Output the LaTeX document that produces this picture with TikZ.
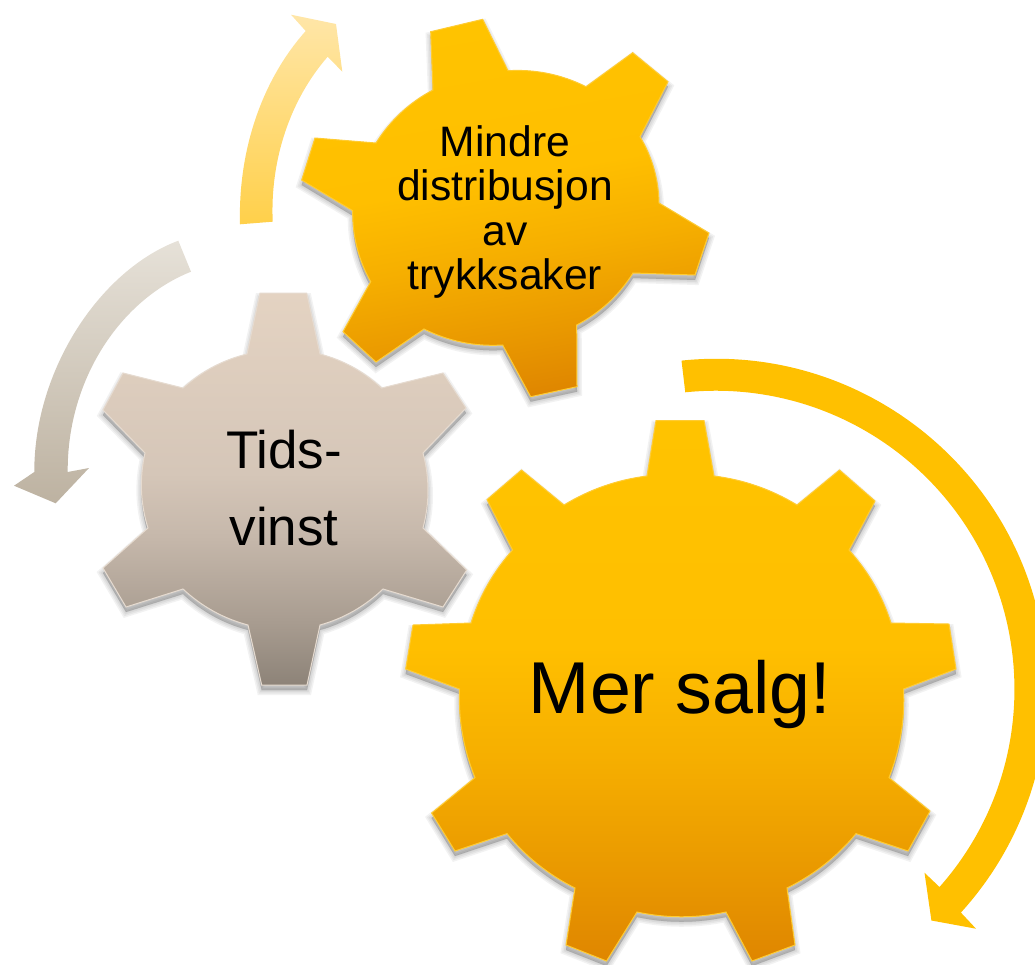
\documentclass[tikz,border=0pt]{standalone}
\usepackage{fontspec}
\setmainfont{Liberation Sans}
\definecolor{goldline}{HTML}{FFCC33}
\definecolor{stoneline}{HTML}{E6DBD0}
\definecolor{goldA}{HTML}{DF8600}
\definecolor{goldB}{HTML}{E99800}
\definecolor{goldC}{HTML}{F6AF00}
\definecolor{goldD}{HTML}{FFBF00}
\definecolor{goldE}{HTML}{FFC300}
\definecolor{goldF}{HTML}{FFC000}
\definecolor{stoneA}{HTML}{8D8378}
\definecolor{stoneB}{HTML}{A89C90}
\definecolor{stoneC}{HTML}{C6B8AB}
\definecolor{stoneD}{HTML}{D5C6B8}
\definecolor{stoneE}{HTML}{E4D3C2}
\definecolor{paleTop}{HTML}{FFE6A8}
\definecolor{paleBot}{HTML}{FFD04A}
\definecolor{greyTop}{HTML}{E6E1D8}
\definecolor{greyBot}{HTML}{BDB2A1}
\pgfdeclareverticalshading{goldshade}{100bp}{color(0bp)=(goldA); color(25bp)=(goldA); color(33bp)=(goldB); color(44bp)=(goldC); color(54bp)=(goldD); color(75bp)=(goldE); color(100bp)=(goldE)}
\pgfdeclareverticalshading{stoneshade}{100bp}{color(0bp)=(stoneA); color(25bp)=(stoneA); color(33bp)=(stoneB); color(44bp)=(stoneC); color(52bp)=(stoneD); color(75bp)=(stoneE); color(100bp)=(stoneE)}
\tikzset{
  x=1pt,y=-1pt,
  ab/.style={bend left=#1,looseness=.88},
  goldgear/.style={shading=goldshade,draw=goldline,line width=1pt},
  stonegear/.style={shading=stoneshade,draw=stoneline,line width=1pt},
  gearlabel/.style={text=black,inner sep=0pt,align=center}
}
\def\gearBig{(656,420.5) -- (704,420.5) -- (714,476) to[ab=12] (797,505) -- (839.5,470) -- (875,501) -- (849,550) to[ab=12] (891,623) -- (949,624) -- (956,669) -- (903.5,689) to[ab=12] (889,777.6) -- (930,811) -- (908,851) -- (856,833.6) to[ab=12] (787,888) -- (795,945) -- (752,961) -- (726,912) to[ab=12] (637,912) -- (606.5,961) -- (566,945) -- (575,888) to[ab=12] (507,833.6) -- (455,851) -- (431.6,813) -- (475,777.6) to[ab=12] (459.5,689) -- (405.7,669) -- (413,625) -- (471,623) to[ab=12] (512.6,550) -- (487,499.6) -- (521.5,470) -- (564,505) to[ab=12] (647,476) -- cycle}
\def\gearTid{(260,293) -- (306.7,293) -- (320,354) to[ab=14] (381.7,388) -- (443,373) -- (466,408) -- (423,453) to[ab=15] (423,528) -- (466.7,570) -- (443,607) -- (383,589) to[ab=14] (320,625) -- (307,685) -- (261.7,685) -- (248,625) to[ab=14] (183,589) -- (126,607) -- (103,568) -- (148,528) to[ab=15] (145,453) -- (103,410) -- (123,373) -- (183,388) to[ab=14] (247,354) -- cycle}
\def\gearMin{(430.7,31.7) -- (482.7,19.3) -- (508,70.7) to[ab=15] (586,86.7) -- (632.7,52.7) -- (668,81.7) -- (640,136.7) to[ab=15] (659,203) -- (709,233) -- (695,275) -- (633,273) to[ab=15] (576.7,325) -- (577,386.7) -- (530.7,396.7) -- (502.7,345) to[ab=15] (424,329) -- (376,362) -- (343,331.7) -- (370.7,281.7) to[ab=15] (352.7,210.7) -- (301.7,180) -- (315,138) -- (376,143) to[ab=15] (433,90) -- cycle}
\newcommand{\softshadow}[1]{\foreach \w in {10,7,4,1}{\filldraw[black,opacity=.05,line width=\w pt,shift={(0,5)}] #1;}}
\begin{document}
\begin{tikzpicture}
\useasboundingbox (0,0) rectangle (1035,964);
\clip (0,0) rectangle (1035,964);
% arrows
\shade[top color=paleTop,bottom color=paleBot] (240,224.3) .. controls (238,150) and (262,80) .. (305.7,31) -- (291,14.7) -- (336,24) -- (342.3,71.7) -- (327.7,56.7) .. controls (290,100) and (270,160) .. (272.7,221.7) -- cycle;
\shade[top color=greyTop,bottom color=greyBot] (178.3,240.7) .. controls (100,270) and (34,370) .. (34.3,472) -- (14,485.7) -- (55.7,503.3) -- (89,468) -- (67.7,472) .. controls (67,380) and (120,300) .. (191,271.7) -- cycle;
\fill[goldF] (681.5,360.6) arc[start angle=-96,end angle=42.3,radius=331] -- (976,928.7) -- (931.4,920.5) -- (924.5,872.7) -- (939.5,887) arc[start angle=41.5,end angle=-95.9,radius=298.5] -- cycle;
% gears
\softshadow{\gearMin}
\softshadow{\gearTid}
\softshadow{\gearBig}
\shade[goldgear,shading angle=10] \gearMin;
\shade[stonegear] \gearTid;
\shade[goldgear] \gearBig;
% labels
\node[gearlabel,font={\fontsize{42.6}{44.4}\selectfont}] (mindre) at (505,212) {Mindre\\distribusjon\\av\\trykksaker};
\node[gearlabel,font={\fontsize{53}{77}\selectfont}] (tid) at (284,488) {Tids-\\vinst};
\node[gearlabel,font={\fontsize{73.5}{80}\selectfont}] (salg) at (680,694) {Mer salg!};
\end{tikzpicture}
\end{document}
